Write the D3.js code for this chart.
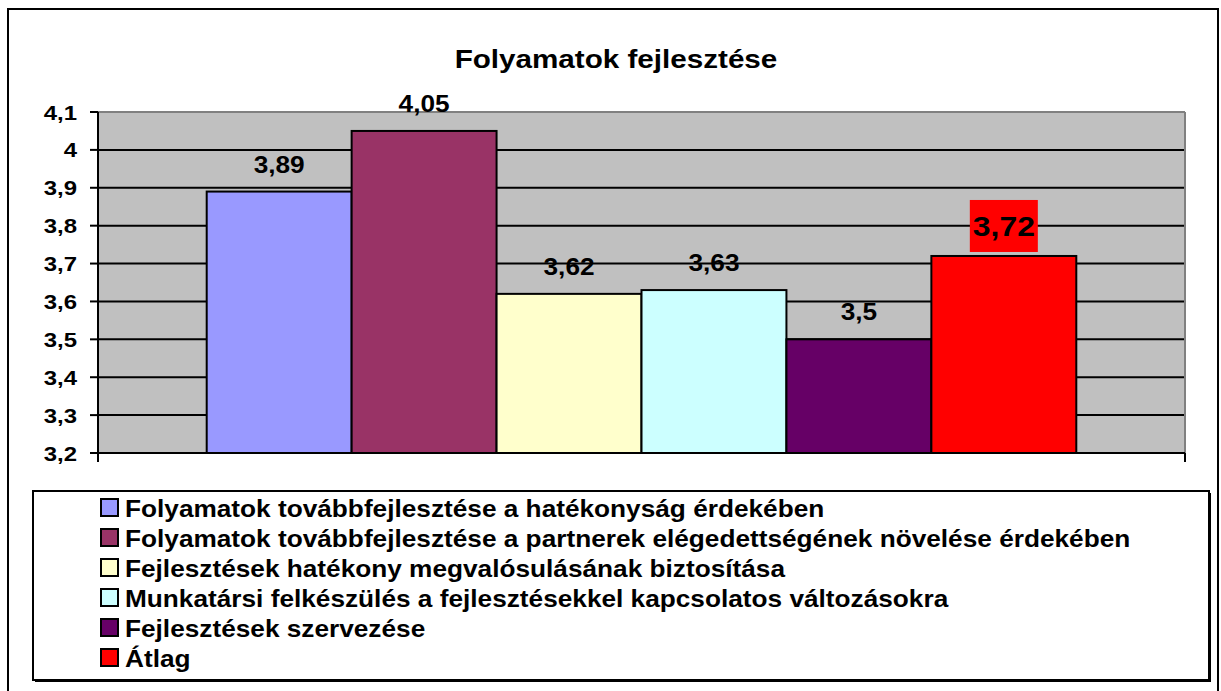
<!DOCTYPE html>
<html>
<head>
<meta charset="utf-8">
<script src="https://cdn.jsdelivr.net/npm/d3@7"></script>
<style>
  body { margin: 0; background: #fff; }
  text { font-family: "Liberation Sans", Arial, sans-serif; font-weight: bold; fill: #000; }
</style>
</head>
<body>
<script>
//data
var title = "Folyamatok fejlesztése";
var series = [
    "Folyamatok továbbfejlesztése a hatékonyság érdekében",
    "Folyamatok továbbfejlesztése a partnerek elégedettségének növelése érdekében",
    "Fejlesztések hatékony megvalósulásának biztosítása",
    "Munkatársi felkészülés a fejlesztésekkel kapcsolatos változásokra",
    "Fejlesztések szervezése",
    "Átlag"
];
var values = [3.89, 4.05, 3.62, 3.63, 3.5, 3.72];
var labels = ["3,89", "4,05", "3,62", "3,63", "3,5", "3,72"];
var colors = ["#9999FF", "#993366", "#FFFFCC", "#CCFFFF", "#660066", "#FF0000"];
var yTicks = [3.2, 3.3, 3.4, 3.5, 3.6, 3.7, 3.8, 3.9, 4, 4.1];
var yTickLabels = ["3,2", "3,3", "3,4", "3,5", "3,6", "3,7", "3,8", "3,9", "4", "4,1"];
var highlight = 5; // the "Átlag" label gets a red box

var W = 1221, H = 691;
var sx = 1.14; // horizontal text stretch seen in the picture
var plot = { left: 98, right: 1185, top: 112, bottom: 453 };

var svg = d3.select("body").append("svg")
    .attr("width", W)
    .attr("height", H);

svg.append("rect").attr("width", W).attr("height", H).attr("fill", "#fff");

// outer chart border
svg.append("rect")
    .attr("x", 8).attr("y", 9)
    .attr("width", 1210).attr("height", 700)
    .attr("fill", "none").attr("stroke", "#000").attr("stroke-width", 2);

function stretched(sel, x, y) {
    return sel.attr("transform", "translate(" + x + "," + y + ") scale(" + sx + ",1)");
}

// title
stretched(svg.append("text"), 616, 68)
    .attr("text-anchor", "middle")
    .attr("font-size", 26)
    .text(title);

//scales
var y = d3.scaleLinear()
    .domain([3.2, 4.1])
    .range([plot.bottom, plot.top]);

var gapRatio = 1.5; // gap width 150%
var bw = plot.right - plot.left;
var pad = bw * gapRatio / (series.length + gapRatio) / 2;
var x = d3.scaleBand()
    .domain(series)
    .range([plot.left + pad, plot.right - pad])
    .padding(0);

// plot background
svg.append("rect")
    .attr("x", plot.left).attr("y", plot.top)
    .attr("width", bw).attr("height", plot.bottom - plot.top)
    .attr("fill", "#C0C0C0");

// gridlines
svg.append("g").selectAll("line")
    .data(yTicks.slice(1))
    .enter().append("line")
    .attr("x1", plot.left).attr("x2", plot.right)
    .attr("y1", function (d) { return y(d); })
    .attr("y2", function (d) { return y(d); })
    .attr("stroke", function (d, i) { return i === yTicks.length - 2 ? "#808080" : "#000"; })
    .attr("stroke-width", 2);

// right border of plot
svg.append("line")
    .attr("x1", plot.right).attr("x2", plot.right)
    .attr("y1", plot.top).attr("y2", plot.bottom)
    .attr("stroke", "#808080").attr("stroke-width", 2);

// bars
svg.append("g").selectAll("rect")
    .data(values)
    .enter().append("rect")
    .attr("x", function (d, i) { return x(series[i]); })
    .attr("y", function (d) { return y(d); })
    .attr("width", x.bandwidth())
    .attr("height", function (d) { return plot.bottom - y(d); })
    .attr("fill", function (d, i) { return colors[i]; })
    .attr("stroke", "#000")
    .attr("stroke-width", 2);

// y axis
var yAxis = svg.append("g");
yAxis.append("line")
    .attr("x1", plot.left).attr("x2", plot.left)
    .attr("y1", plot.top).attr("y2", plot.bottom + 9)
    .attr("stroke", "#000").attr("stroke-width", 2);
yAxis.selectAll(".tick")
    .data(yTicks)
    .enter().append("line")
    .attr("x1", plot.left - 8).attr("x2", plot.left)
    .attr("y1", function (d) { return y(d); })
    .attr("y2", function (d) { return y(d); })
    .attr("stroke", "#000").attr("stroke-width", 2);
yAxis.selectAll("text")
    .data(yTicks)
    .enter().append("text")
    .attr("text-anchor", "end")
    .attr("font-size", 21)
    .each(function (d, i) { stretched(d3.select(this), 77, y(d) + 7.5); })
    .text(function (d, i) { return yTickLabels[i]; });

// x axis
svg.append("line")
    .attr("x1", plot.left).attr("x2", plot.right)
    .attr("y1", plot.bottom).attr("y2", plot.bottom)
    .attr("stroke", "#000").attr("stroke-width", 2);
svg.append("line")
    .attr("x1", plot.right).attr("x2", plot.right)
    .attr("y1", plot.bottom).attr("y2", plot.bottom + 9)
    .attr("stroke", "#000").attr("stroke-width", 2);

// data labels
var lab = svg.append("g");
lab.append("rect")
    .attr("x", x(series[highlight]) + x.bandwidth() / 2 - 34)
    .attr("y", y(values[highlight]) - 56)
    .attr("width", 68).attr("height", 52)
    .attr("fill", colors[highlight]);
lab.selectAll("text")
    .data(values)
    .enter().append("text")
    .attr("text-anchor", "middle")
    .attr("font-size", function (d, i) { return i === highlight ? 28 : 23; })
    .each(function (d, i) {
        var cx = x(series[i]) + x.bandwidth() / 2;
        var cy = i === highlight ? y(d) - 20 : y(d) - 19;
        stretched(d3.select(this), cx, cy);
    })
    .text(function (d, i) { return labels[i]; });

// legend
var leg = { x: 33, y: 491, w: 1176, h: 189 };
svg.append("rect")
    .attr("x", leg.x + 2).attr("y", leg.y + 2)
    .attr("width", leg.w).attr("height", leg.h)
    .attr("fill", "#000");
svg.append("rect")
    .attr("x", leg.x).attr("y", leg.y)
    .attr("width", leg.w).attr("height", leg.h)
    .attr("fill", "#fff").attr("stroke", "#000").attr("stroke-width", 2);

var rows = svg.append("g").selectAll("g")
    .data(series)
    .enter().append("g")
    .attr("transform", function (d, i) { return "translate(0," + (508 + i * 30) + ")"; });
rows.append("rect")
    .attr("x", 101).attr("y", -9)
    .attr("width", 17).attr("height", 17)
    .attr("fill", function (d, i) { return colors[i]; })
    .attr("stroke", "#000").attr("stroke-width", 2);
rows.append("text")
    .attr("font-size", 23)
    .attr("transform", "translate(125,8.5) scale(" + sx + ",1)")
    .text(function (d) { return d; });
</script>
</body>
</html>
